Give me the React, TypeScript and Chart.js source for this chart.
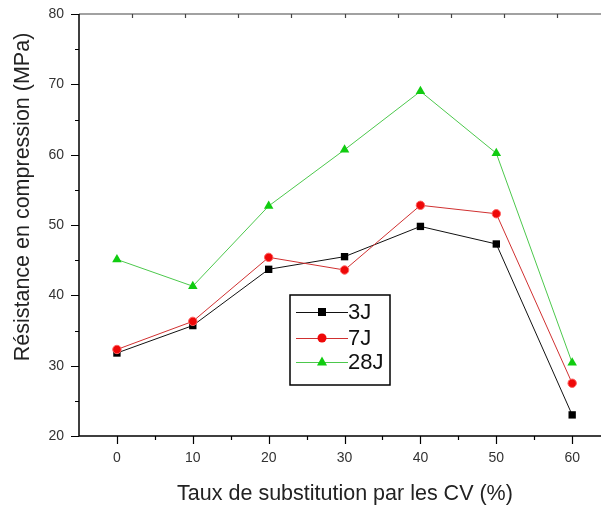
import React, { useEffect, useRef } from 'react';
import { Chart, registerables } from 'chart.js';

Chart.register(...registerables);

const substitution = [0, 10, 20, 30, 40, 50, 60];
const series3J = [31.8, 35.7, 43.7, 45.5, 49.8, 47.3, 23.0];
const series7J = [32.3, 36.3, 45.4, 43.6, 52.8, 51.6, 27.5];
const series28J = [45.1, 41.3, 52.7, 60.7, 69.0, 60.2, 30.4];
const seriesLabels = ['3J', '7J', '28J'];
const xMajorTicks = [0, 10, 20, 30, 40, 50, 60];
const xMinorTicks = [5, 15, 25, 35, 45, 55];
const yMajorTicks = [20, 30, 40, 50, 60, 70, 80];
const yMinorTicks = [25, 35, 45, 55, 65, 75];
const topTicks = [2, 9, 16, 23, 30, 37, 44, 51, 58];
const xTitle = 'Taux de substitution par les CV (%)';
const yTitle = 'Résistance en compression (MPa)';

const FONT = '"Liberation Sans", Arial, sans-serif';

function drawMarker(ctx: CanvasRenderingContext2D, style: string, x: number, y: number, fill: string) {
  ctx.fillStyle = fill;
  ctx.beginPath();
  if (style === 'rect') {
    ctx.rect(x - 4, y - 4, 8, 8);
  } else if (style === 'circle') {
    ctx.arc(x, y, 4.5, 0, Math.PI * 2);
  } else {
    ctx.moveTo(x, y - 5.5);
    ctx.lineTo(x + 5, y + 3.5);
    ctx.lineTo(x - 5, y + 3.5);
    ctx.closePath();
  }
  ctx.fill();
}

const decor = {
  id: 'decor',
  afterDraw(chart: any) {
    const { ctx, chartArea: a } = chart;
    const x = chart.scales.x;
    const y = chart.scales.y;
    ctx.save();
    // top border with ticks
    ctx.strokeStyle = '#444';
    ctx.lineWidth = 1.2;
    ctx.beginPath();
    ctx.moveTo(a.left, a.top);
    ctx.lineTo(a.right, a.top);
    for (const t of topTicks) {
      const px = Math.round(x.getPixelForValue(t)) + 0.5;
      ctx.moveTo(px, a.top);
      ctx.lineTo(px, a.top + 4);
    }
    ctx.stroke();
    // axes
    ctx.strokeStyle = '#000';
    ctx.lineWidth = 1.5;
    ctx.beginPath();
    ctx.moveTo(a.left, a.top);
    ctx.lineTo(a.left, a.bottom);
    ctx.lineTo(a.right, a.bottom);
    ctx.stroke();
    ctx.lineWidth = 1.2;
    ctx.beginPath();
    for (const t of xMajorTicks) {
      const px = Math.round(x.getPixelForValue(t)) + 0.5;
      ctx.moveTo(px, a.bottom);
      ctx.lineTo(px, a.bottom + 8);
    }
    for (const t of xMinorTicks) {
      const px = Math.round(x.getPixelForValue(t)) + 0.5;
      ctx.moveTo(px, a.bottom);
      ctx.lineTo(px, a.bottom + 4);
    }
    for (const t of yMajorTicks) {
      const py = Math.round(y.getPixelForValue(t)) + 0.5;
      ctx.moveTo(a.left, py);
      ctx.lineTo(a.left - 8, py);
    }
    for (const t of yMinorTicks) {
      const py = Math.round(y.getPixelForValue(t)) + 0.5;
      ctx.moveTo(a.left, py);
      ctx.lineTo(a.left - 4, py);
    }
    ctx.stroke();

    // axis titles
    ctx.fillStyle = '#222';
    ctx.font = `21.5px ${FONT}`;
    ctx.textAlign = 'center';
    ctx.textBaseline = 'middle';
    ctx.fillText(xTitle, 345, 494);
    ctx.save();
    ctx.translate(23, 197);
    ctx.rotate(-Math.PI / 2);
    ctx.fillText(yTitle, 0, 0);
    ctx.restore();

    // legend
    const bx = 290, by = 295, bw = 100, bh = 90;
    ctx.fillStyle = '#fff';
    ctx.fillRect(bx, by, bw, bh);
    ctx.strokeStyle = '#000';
    ctx.lineWidth = 1.5;
    ctx.strokeRect(bx, by, bw, bh);
    const rows = [312, 338, 362];
    chart.data.datasets.forEach((ds: any, i: number) => {
      const ry = rows[i];
      ctx.strokeStyle = ds.borderColor;
      ctx.lineWidth = 1;
      ctx.beginPath();
      ctx.moveTo(bx + 6, ry + 0.5);
      ctx.lineTo(bx + 58, ry + 0.5);
      ctx.stroke();
      drawMarker(ctx, ds.pointStyle, bx + 32, ry, ds.pointBackgroundColor);
      ctx.fillStyle = '#111';
      ctx.font = `22px ${FONT}`;
      ctx.textAlign = 'left';
      ctx.textBaseline = 'middle';
      ctx.fillText(ds.label, bx + 58, ry + 1);
    });
    ctx.restore();
  },
};

export default function App() {
  const ref = useRef<HTMLCanvasElement>(null);
  useEffect(() => {
    document.body.style.margin = '0';
    const mk = (vals: number[]) => substitution.map((v, i) => ({ x: v, y: vals[i] }));
    const chart = new Chart(ref.current!, {
      type: 'line',
      data: {
        datasets: [
          {
            label: seriesLabels[0],
            data: mk(series3J),
            order: 3,
            borderColor: '#111111',
            borderWidth: 1,
            pointStyle: 'rect',
            pointRadius: 5.2,
            pointBackgroundColor: '#000000',
            pointBorderColor: '#000000',
            pointBorderWidth: 0,
          },
          {
            label: seriesLabels[1],
            data: mk(series7J),
            order: 2,
            borderColor: '#d03030',
            borderWidth: 1,
            pointStyle: 'circle',
            pointRadius: 4.2,
            pointBackgroundColor: '#ee0808',
            pointBorderColor: '#ff6060',
            pointBorderWidth: 1,
          },
          {
            label: seriesLabels[2],
            data: mk(series28J),
            order: 1,
            borderColor: '#4cc84c',
            borderWidth: 1,
            pointStyle: 'triangle',
            pointRadius: 5.5,
            pointBackgroundColor: '#10cc10',
            pointBorderColor: '#10cc10',
            pointBorderWidth: 0,
          },
        ],
      },
      options: {
        animation: false,
        responsive: false,
        devicePixelRatio: 1,
        layout: { autoPadding: false, padding: { top: 14, right: 0, left: 0, bottom: 0 } },
        plugins: { legend: { display: false }, tooltip: { enabled: false } },
        scales: {
          x: {
            type: 'linear',
            min: -5,
            max: 63.8,
            grid: { display: false, drawTicks: false },
            border: { display: false },
            afterBuildTicks: (s: any) => {
              s.ticks = xMajorTicks.map((v) => ({ value: v }));
            },
            afterFit: (s: any) => {
              s.height = 70;
              s.paddingLeft = 0;
              s.paddingRight = 0;
            },
            ticks: {
              padding: 14,
              color: '#333',
              font: { family: FONT, size: 14 },
              maxRotation: 0,
              autoSkip: false,
            },
          },
          y: {
            type: 'linear',
            min: 20,
            max: 80,
            grid: { display: false, drawTicks: false },
            border: { display: false },
            afterBuildTicks: (s: any) => {
              s.ticks = yMajorTicks.map((v) => ({ value: v }));
            },
            afterFit: (s: any) => {
              s.width = 79;
              s.paddingTop = 0;
              s.paddingBottom = 0;
            },
            ticks: {
              padding: 15,
              color: '#333',
              font: { family: FONT, size: 14 },
              autoSkip: false,
            },
          },
        },
      },
      plugins: [decor],
    });
    return () => chart.destroy();
  }, []);
  return (
    <div style={{ position: 'absolute', left: 0, top: 0, width: 601, height: 506, background: '#fff' }}>
      <canvas ref={ref} width={601} height={506} />
    </div>
  );
}
